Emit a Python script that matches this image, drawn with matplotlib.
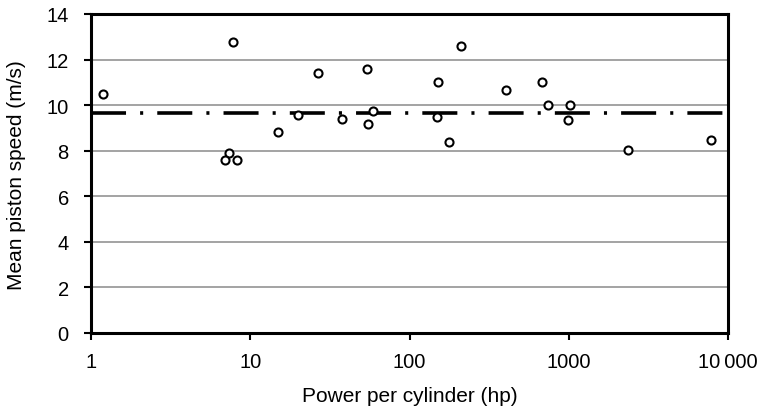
import matplotlib.pyplot as plt
from matplotlib.ticker import FixedLocator, NullLocator

plt.rcParams['font.family'] = ['Liberation Sans', 'DejaVu Sans']

# power per cylinder (hp) and mean piston speed (m/s)
power = [1.19, 7.8, 7.36, 6.98, 8.3, 15.0, 19.9, 26.5, 37.5, 54.3, 54.6, 58.7,
         210, 150, 149.5, 178, 402, 682, 737, 1023, 985, 2370, 7820]
speed = [10.5, 12.78, 7.89, 7.61, 7.61, 8.81, 9.58, 11.42, 9.40, 11.58, 9.16, 9.74,
         12.61, 11.0, 9.49, 8.39, 10.66, 11.0, 10.0, 10.0, 9.33, 8.03, 8.47]
mean_speed = 9.65

xticks = [1, 10, 100, 1000, 10000]
xlabels = ['1', '10', '100', '1000', '10\u2009000']
yticks = [0, 2, 4, 6, 8, 10, 12, 14]

fig = plt.figure(figsize=(7.61, 4.10), dpi=100)
ax = fig.add_axes([91 / 761, 1 - 334 / 410, 637 / 761, 319 / 410])

ax.set_xscale('log')
ax.set_xlim(1, 10000)
ax.set_ylim(0, 14)

for y in yticks[1:]:
    ax.axhline(y, color='#8a8a8a', lw=1.1, zorder=1)

line, = ax.plot([1, 10000], [mean_speed, mean_speed], color='black', lw=2.6,
                zorder=2)
line.set_dashes([9.7, 3.9, 0.85, 3.9])
line.set_dash_capstyle('butt')

ax.plot(power, speed, 'o', ms=5.8, mfc='white', mec='black', mew=1.5, zorder=3,
        clip_on=False)

ax.xaxis.set_major_locator(FixedLocator(xticks))
ax.xaxis.set_minor_locator(NullLocator())
ax.set_xticklabels(xlabels)
ax.set_yticks(yticks)

for s in ax.spines.values():
    s.set_linewidth(2.2)
    s.set_color('black')

ax.tick_params(axis='both', which='major', direction='out', length=5, width=1.5,
               labelsize=14.5, colors='black')
ax.tick_params(axis='y', pad=11)
ax.tick_params(axis='x', pad=8.5)

ax.set_xlabel('Power per cylinder (hp)', fontsize=15, va='center')
ax.set_ylabel('Mean piston speed (m/s)', fontsize=15, va='center')
ax.xaxis.set_label_coords((410 - 91) / 637, (334 - 397) / 319)
ax.yaxis.set_label_coords((17 - 91) / 637, (334 - 175) / 319)

fig.savefig('out.png', dpi=100)
